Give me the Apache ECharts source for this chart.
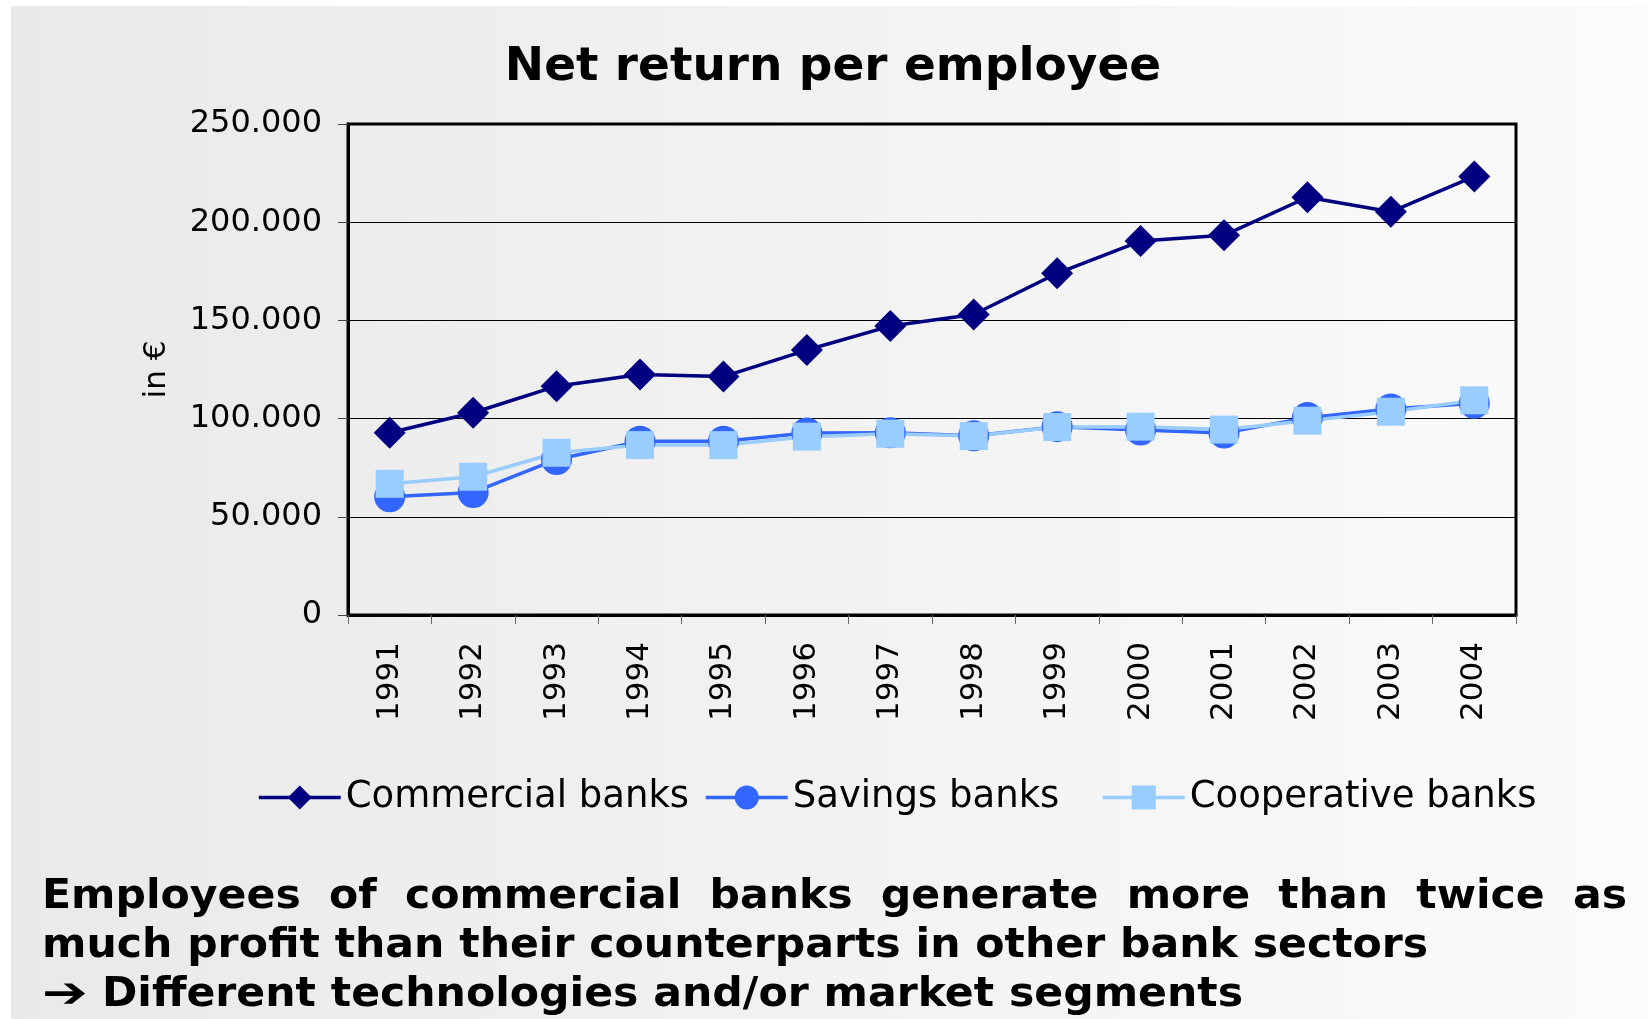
<!DOCTYPE html>
<html>
<head>
<meta charset="utf-8">
<script src="https://cdn.jsdelivr.net/npm/echarts@6/dist/echarts.min.js"></script>
<style>
  html, body { margin: 0; padding: 0; background: #ffffff; }
  #chart { width: 1648px; height: 1019px; }
</style>
</head>
<body>
<div id="chart"></div>
<script>
// Years on the category axis
const years = ['1991', '1992', '1993', '1994', '1995', '1996', '1997',
               '1998', '1999', '2000', '2001', '2002', '2003', '2004'];

// Net return per employee, in euro
const commercialBanks  = [92800, 103000, 116500, 122500, 121400, 134900, 147100,
                          153000, 174000, 190400, 193300, 212700, 205300, 223300];
const savingsBanks     = [60200, 62400, 79200, 88500, 88500, 92700, 92800,
                          91300, 95900, 94200, 92700, 100500, 104900, 107800];
const cooperativeBanks = [66800, 70400, 82600, 86500, 86500, 90800, 92300,
                          91100, 95700, 95900, 94400, 98900, 103500, 109300];

const seriesNames = ['Commercial banks', 'Savings banks', 'Cooperative banks'];

// Value axis ticks
const yMin = 0, yMax = 250000, yStep = 50000;

const chartTitle = 'Net return per employee';
const yAxisName = 'in €';
const noteLines = [
  'Employees of commercial banks generate more than twice as',
  'much profit than their counterparts in other bank sectors',
  'Different technologies and/or market segments'
];
const noteArrow = '\u2794';

const FONT = '"DejaVu Sans", Verdana, sans-serif';

// Thousands separated by dots: 250000 -> 250.000
function fmtThousands(v) {
  return String(v).replace(/\B(?=(\d{3})+(?!\d))/g, '.');
}

// Text measuring for the justified note line
const measureCtx = document.createElement('canvas').getContext('2d');
function textWidth(s, font) {
  measureCtx.font = font;
  return measureCtx.measureText(s).width;
}

const noteSize = 40;
const noteScaleX = 1.065;
const noteFont = 'bold ' + noteSize + 'px ' + FONT;
const noteLeft = 42, noteRight = 1627;
const noteY = [898, 947, 996];

function noteText(str, x, y, font, sx) {
  return {
    type: 'text', x: x, y: y, scaleX: sx, originX: 0,
    style: { text: str, font: font, fill: '#000', textAlign: 'left', textVerticalAlign: 'middle' }
  };
}

const noteElements = [];
// First line is justified across the full width
(function () {
  const words = noteLines[0].split(' ');
  const widths = words.map(w => textWidth(w, noteFont) * noteScaleX);
  const total = widths.reduce((a, b) => a + b, 0);
  const gap = (noteRight - noteLeft - total) / (words.length - 1);
  let x = noteLeft;
  words.forEach((w, i) => {
    noteElements.push(noteText(w, x, noteY[0], noteFont, noteScaleX));
    x += widths[i] + gap;
  });
})();
noteElements.push(noteText(noteLines[1], noteLeft, noteY[1], noteFont, noteScaleX));
// Arrow bullet, then the conclusion
noteElements.push(noteText(noteArrow, noteLeft, noteY[2], 'bold 42px ' + FONT, 1.3));
noteElements.push(noteText(noteLines[2], 102, noteY[2], noteFont, noteScaleX));

const chart = echarts.init(document.getElementById('chart'), null, { renderer: 'canvas' });

const legendCommon = {
  orient: 'horizontal',
  top: 774,
  itemWidth: 82,
  itemHeight: 30,
  itemGap: 0,
  lineStyle: { width: 3.5 },
  textStyle: { fontFamily: FONT, fontSize: 37, color: '#000' }
};

const option = {
  animation: false,
  backgroundColor: '#ffffff',
  graphic: [
    {
      type: 'rect', z: -10, silent: true,
      shape: { x: 11, y: 6, width: 1637, height: 1013 },
      style: {
        fill: new echarts.graphic.LinearGradient(0, 0, 1, 0, [
          { offset: 0, color: '#e9e9e9' },
          { offset: 1, color: '#fbfbfb' }
        ])
      }
    },
    {
      type: 'text', x: 833, y: 68,
      style: {
        text: chartTitle, font: 'bold 47px ' + FONT, fill: '#000',
        textAlign: 'center', textVerticalAlign: 'middle'
      }
    }
  ].concat(noteElements),
  legend: [
    Object.assign({}, legendCommon, { left: 252, data: [seriesNames[0]] }),
    Object.assign({}, legendCommon, { left: 699, data: [seriesNames[1]] }),
    Object.assign({}, legendCommon, { left: 1096, data: [seriesNames[2]] })
  ],
  grid: {
    left: 348, right: 132, top: 124, bottom: 404,
    show: true, borderColor: '#000', borderWidth: 3,
    backgroundColor: 'transparent'
  },
  xAxis: {
    type: 'category',
    data: years,
    boundaryGap: true,
    axisLine: { show: true, lineStyle: { color: '#000', width: 3 } },
    axisTick: { show: true, length: 9, lineStyle: { color: '#666', width: 1 } },
    axisLabel: {
      rotate: 90, margin: 27, fontSize: 31, fontFamily: FONT, color: '#000', interval: 0
    },
    splitLine: { show: false }
  },
  yAxis: {
    type: 'value',
    min: yMin, max: yMax, interval: yStep,
    name: yAxisName,
    nameLocation: 'middle',
    nameRotate: 90,
    nameGap: 176,
    nameTextStyle: { fontFamily: FONT, fontSize: 31, color: '#000' },
    axisLine: { show: true, lineStyle: { color: '#000', width: 3 } },
    axisTick: { show: true, length: 10, lineStyle: { color: '#444', width: 1 } },
    axisLabel: {
      margin: 26, fontSize: 32, fontFamily: FONT, color: '#000',
      formatter: fmtThousands
    },
    splitLine: { show: true, lineStyle: { color: '#000', width: 1 } }
  },
  series: [
    {
      name: seriesNames[0], type: 'line', data: commercialBanks,
      symbol: 'diamond', symbolSize: 32,
      lineStyle: { color: '#000080', width: 3.5 },
      itemStyle: { color: '#000080' }
    },
    {
      name: seriesNames[1], type: 'line', data: savingsBanks,
      symbol: 'circle', symbolSize: 31,
      lineStyle: { color: '#3366ff', width: 3.5 },
      itemStyle: { color: '#3366ff' }
    },
    {
      name: seriesNames[2], type: 'line', data: cooperativeBanks,
      symbol: 'rect', symbolSize: 28,
      lineStyle: { color: '#99ccff', width: 3.5 },
      itemStyle: { color: '#99ccff' }
    }
  ]
};

chart.setOption(option);
</script>
</body>
</html>
